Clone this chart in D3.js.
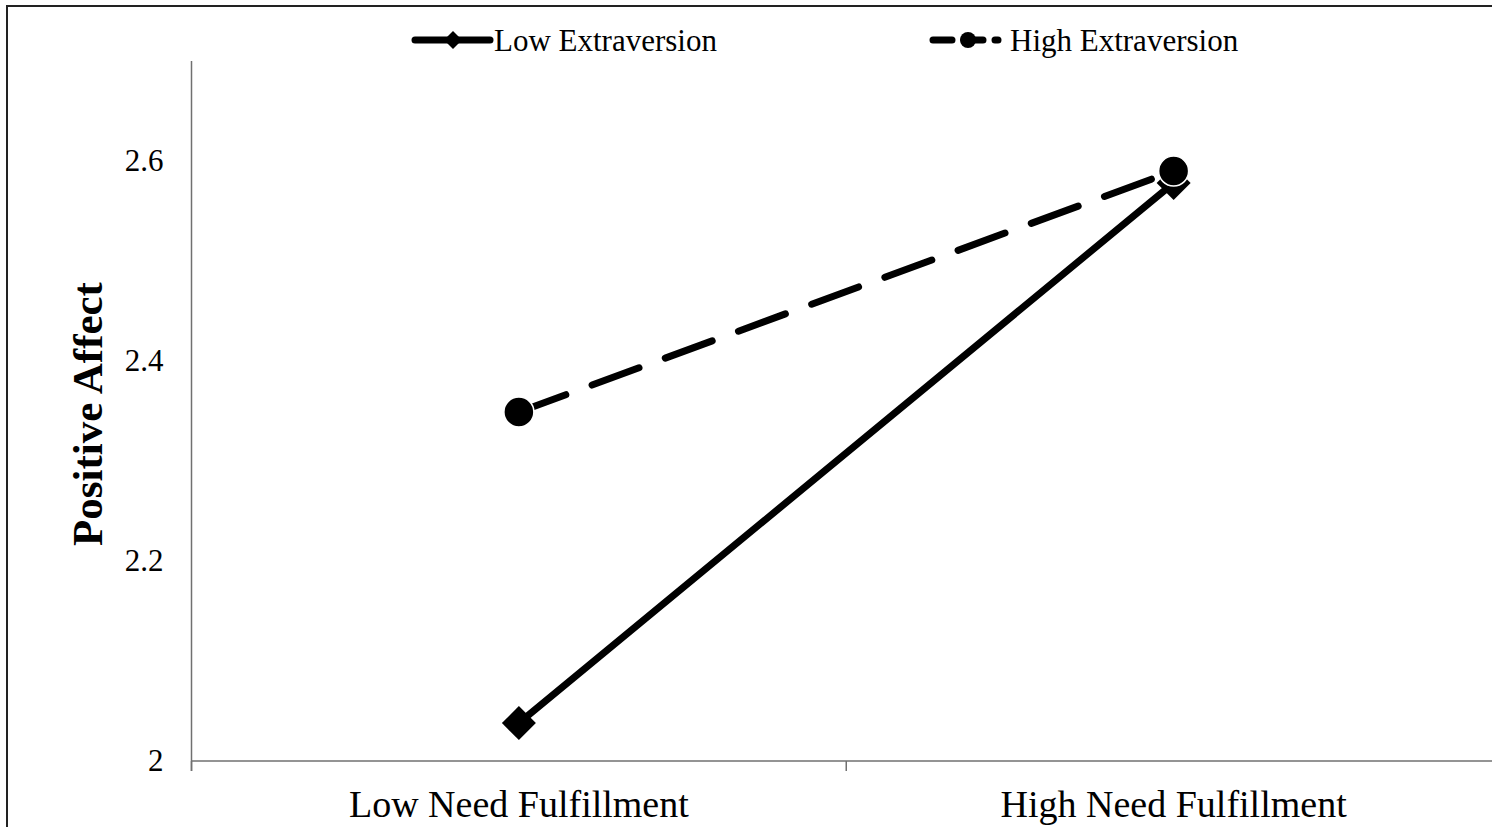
<!DOCTYPE html>
<html>
<head>
<meta charset="utf-8">
<script src="https://cdn.jsdelivr.net/npm/d3@7"></script>
<style>
  html, body { margin: 0; padding: 0; background: #fff; overflow: hidden; }
  text { font-family: "Liberation Serif", "Times New Roman", serif; fill: #000; }
</style>
</head>
<body>
<div id="container"></div>
<script>
/* CONSTANTS AND GLOBALS */
const width = 1492,
    height = 827,
    margin = { top: 61, bottom: 66, left: 191.5, right: -9 };

// data
const categories = ["Low Need Fulfillment", "High Need Fulfillment"];
const seriesNames = ["Low Extraversion", "High Extraversion"];
const lowExtraversion = [2.038, 2.578];
const highExtraversion = [2.349, 2.59];
const yTicks = [2, 2.2, 2.4, 2.6];

const series = [
    { name: seriesNames[0], values: lowExtraversion, dash: null, marker: "diamond" },
    { name: seriesNames[1], values: highExtraversion, dash: "50,28", marker: "circle" }
];

//SCALES
const xScale = d3.scaleBand()
    .domain(categories)
    .range([margin.left, width - margin.right])
    .padding(0);

const yScale = d3.scaleLinear()
    .domain([2, 2.7])
    .range([height - margin.bottom, margin.top]);

//CREATE SVG
const svg = d3.select("#container")
    .append("svg")
    .attr("width", width)
    .attr("height", height);

// outer frame (runs off the right and bottom edges)
svg.append("rect")
    .attr("x", 7)
    .attr("y", 6)
    .attr("width", width + 20)
    .attr("height", height + 20)
    .attr("fill", "none")
    .attr("stroke", "#222")
    .attr("stroke-width", 2);

const axisColor = "#707070";

//X AXIS - ticks sit on the category boundaries
const xAxisG = svg.append("g")
    .attr("class", "axis")
    .attr("transform", `translate(0,${yScale(2)})`);
xAxisG.append("line")
    .attr("x1", margin.left).attr("x2", width - margin.right)
    .attr("stroke", axisColor).attr("stroke-width", 1.5);
const bounds = categories.map(c => xScale(c)).concat([xScale.range()[1]]);
xAxisG.selectAll(".bound")
    .data(bounds)
    .join("line")
    .attr("class", "bound")
    .attr("x1", d => d).attr("x2", d => d)
    .attr("y1", 0).attr("y2", 10)
    .attr("stroke", axisColor).attr("stroke-width", 1.5);
xAxisG.selectAll(".cat")
    .data(categories)
    .join("text")
    .attr("class", "cat")
    .attr("x", d => xScale(d) + xScale.bandwidth() / 2)
    .attr("y", 56)
    .attr("text-anchor", "middle")
    .style("font-size", "38px")
    .text(d => d);

//Y AXIS
const yAxis = d3.axisLeft(yScale)
    .tickValues(yTicks)
    .tickSize(0)
    .tickPadding(28)
    .tickFormat(d3.format("~g"));
const yAxisG = svg.append("g")
    .attr("class", "axis")
    .attr("transform", `translate(${margin.left},0)`)
    .call(yAxis);
yAxisG.select(".domain").remove();
yAxisG.append("line")
    .attr("y1", margin.top).attr("y2", yScale(2) + 10)
    .attr("stroke", axisColor).attr("stroke-width", 1.5);
yAxisG.selectAll(".tick text")
    .style("font-size", "31px")
    .style("font-family", "'Liberation Serif', serif")
    .attr("fill", "#000");

//LABEL THE Y-AXIS
svg.append("text")
    .attr("class", "axis-label")
    .attr("transform", "translate(102,414) rotate(-90)")
    .attr("text-anchor", "middle")
    .style("font-size", "43px")
    .style("font-weight", "bold")
    .text("Positive Affect");

//LINES + MARKERS
const line = d3.line()
    .x((d, i) => xScale(categories[i]) + xScale.bandwidth() / 2)
    .y(d => yScale(d));

const diamond = s => `M0,${-s}L${s},0L0,${s}L${-s},0Z`;

series.forEach(s => {
    svg.append("path")
        .datum(s.values)
        .attr("d", line)
        .attr("fill", "none")
        .attr("stroke", "#000")
        .attr("stroke-width", 7)
        .attr("stroke-linecap", "round")
        .attr("stroke-dasharray", s.dash);

    const pts = svg.selectAll(null)
        .data(s.values)
        .join("g")
        .attr("transform", (d, i) => `translate(${xScale(categories[i]) + xScale.bandwidth() / 2},${yScale(d)})`);
    if (s.marker === "circle") {
        pts.append("circle").attr("r", 15).attr("fill", "#000")
            .attr("stroke", "#fff").attr("stroke-width", 1.5);
    } else {
        pts.append("path").attr("d", diamond(17)).attr("fill", "#000");
    }
});

//LEGEND
const legendItems = [
    { name: seriesNames[0], x1: 415, x2: 490, mx: 453, tx: 494, dash: null, marker: "diamond" },
    { name: seriesNames[1], x1: 933, x2: 998, mx: 968, tx: 1010, dash: "19,12", marker: "circle" }
];
const legend = svg.selectAll(".legend")
    .data(legendItems)
    .join("g")
    .attr("class", "legend")
    .attr("transform", "translate(0,40)");
legend.append("line")
    .attr("x1", d => d.x1).attr("x2", d => d.x2)
    .attr("stroke", "#000").attr("stroke-width", 7)
    .attr("stroke-linecap", "round")
    .attr("stroke-dasharray", d => d.dash);
legend.append("path")
    .attr("d", d => d.marker === "diamond" ? diamond(9) : d3.symbol(d3.symbolCircle, Math.PI * 64)())
    .attr("transform", d => `translate(${d.mx},0)`)
    .attr("fill", "#000");
legend.append("text")
    .attr("x", d => d.tx)
    .attr("y", 11)
    .style("font-size", "31px")
    .text(d => d.name);
</script>
</body>
</html>
